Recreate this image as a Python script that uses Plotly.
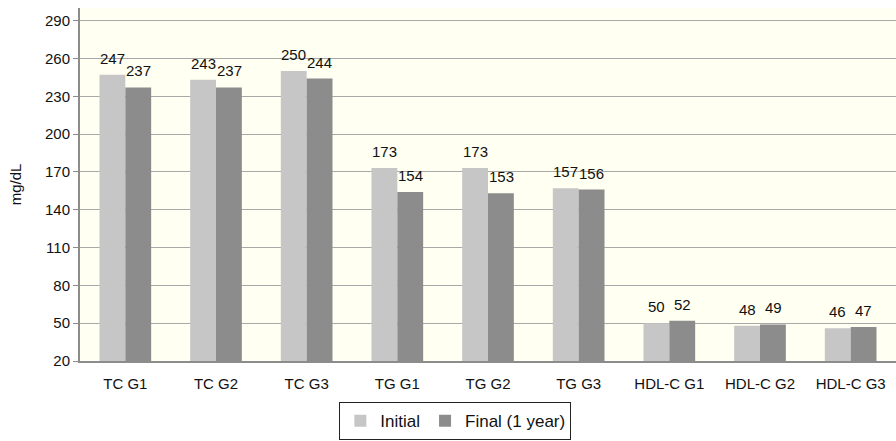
import plotly.graph_objects as go

categories = ["TC G1", "TC G2", "TC G3", "TG G1", "TG G2", "TG G3",
              "HDL-C G1", "HDL-C G2", "HDL-C G3"]
initial = [247, 243, 250, 173, 173, 157, 50, 48, 46]
final_1y = [237, 237, 244, 154, 153, 156, 52, 49, 47]
y_ticks = [20, 50, 80, 110, 140, 170, 200, 230, 260, 290]

FAMILY = "Liberation Sans, Arial, Helvetica, sans-serif"
tick_font = dict(family=FAMILY, size=15, color="#111111")
label_font = dict(family=FAMILY, size=15, color="#111111")

fig = go.Figure()
fig.add_trace(go.Bar(
    x=categories, y=initial, name="Initial",
    marker=dict(color="#c6c6c6", line=dict(width=0)),
))
fig.add_trace(go.Bar(
    x=categories, y=final_1y, name="Final (1 year)",
    marker=dict(color="#8c8c8c", line=dict(width=0)),
))

# value labels above each bar, offset to sit over the matching bar of the pair
bar_half = 13
for series, shift in ((initial, -bar_half), (final_1y, bar_half)):
    for cat, val in zip(categories, series):
        fig.add_annotation(
            x=cat, y=val, text=str(val), showarrow=False,
            xshift=shift, yshift=6, yanchor="bottom", xanchor="center",
            font=label_font,
        )

fig.update_layout(
    width=896, height=441,
    margin=dict(l=80, r=0, t=8, b=80),
    paper_bgcolor="white",
    plot_bgcolor="#fffff2",
    barmode="group",
    bargap=0.43,
    bargroupgap=0,
    font=tick_font,
    showlegend=True,
    legend=dict(
        orientation="h",
        x=0.46, xanchor="center",
        y=-0.117, yanchor="top",
        bordercolor="#222222", borderwidth=1,
        font=dict(family=FAMILY, size=17, color="#111111"),
        traceorder="normal",
    ),
)
fig.update_xaxes(
    showline=True, linecolor="#8c8c8c", linewidth=2,
    ticks="", tickfont=tick_font, showgrid=False,
    ticklabelstandoff=8,
)
fig.update_yaxes(
    range=[20, 300], tickvals=y_ticks,
    showline=True, linecolor="#8c8c8c", linewidth=2,
    ticks="outside", ticklen=5, tickcolor="#8c8c8c",
    showgrid=True, gridcolor="#a8a8a8", gridwidth=1,
    tickfont=tick_font, zeroline=False,
    title=dict(text="mg/dL", font=dict(family=FAMILY, size=15, color="#111111"), standoff=20),
)

fig.write_html("out.html")
